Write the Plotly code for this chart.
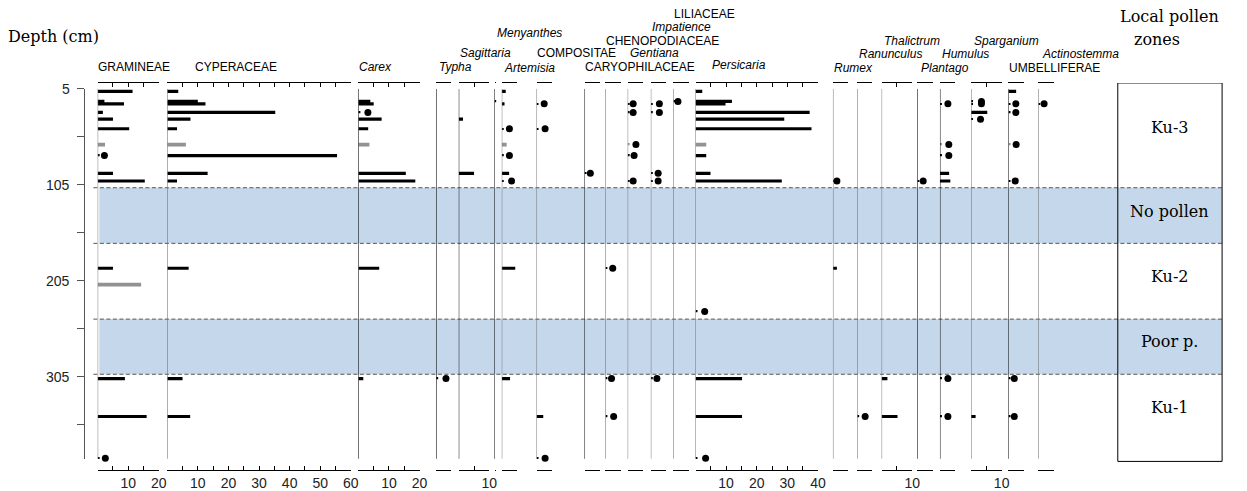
import plotly.graph_objects as go

# ---------------------------------------------------------------- data
# sample depths (cm); bar lists below are aligned with this list
depths = [7.5, 18, 20.5, 29.5, 36.5, 46.5, 74.5, 93, 101, 192, 237, 307, 346.5, 390]
# samples plotted in grey
grey_depths = [63, 209]

# pollen percentages
gramineae    = [11.4, 2.2, 8.6, 1.7, 5.0, 10.3, 0, 5.0, 15.4, 5.0, 0, 8.9, 16.0, 0]
cyperaceae   = [3.6, 10.0, 12.5, 35.3, 7.6, 3.2, 55.5, 13.2, 3.2, 7.0, 0, 5.0, 7.5, 0]
carex        = [0, 3.9, 5.0, 0, 7.6, 3.2, 0, 15.5, 18.6, 6.8, 0, 1.6, 0, 0]
sagittaria   = [0, 0, 0, 0, 1.4, 0, 0, 5.0, 0, 0, 0, 0, 0, 0]
artemisia    = [1.3, 0, 0.9, 0, 0, 0, 0, 2.4, 0, 4.4, 0, 2.7, 0, 0]
compositae   = [0, 0, 0, 0, 0, 0, 0, 0, 0, 0, 0, 0, 2.2, 0]
persicaria   = [2.2, 11.9, 9.8, 37.3, 29.0, 37.9, 3.5, 4.9, 28.2, 0, 0, 15.2, 15.2, 0]
rumex        = [0, 0, 0, 0, 0, 0, 0, 0, 0, 1.3, 0, 0, 0, 0]
thalictrum   = [0, 0, 0, 0, 0, 0, 0, 0, 0, 0, 0, 1.9, 5.2, 0]
humulus      = [0, 0, 0, 0, 0, 0, 0, 3.0, 3.4, 0, 0, 0, 0, 0]
sparganium   = [0, 0, 0, 5.3, 0, 0, 0, 0, 0, 0, 0, 0, 1.5, 0]
umbelliferae = [2.5, 0, 0, 0, 0, 0, 0, 0, 0, 0, 0, 0, 0, 0]

# grey samples (aligned with grey_depths)
gramineae_grey  = [2.4, 14.2]
cyperaceae_grey = [6.1, 0]
carex_grey      = [3.6, 0]
artemisia_grey  = [1.6, 0]
persicaria_grey = [3.5, 0]

# rare occurrences (< 1 %): (depth, marker position in %)
gramineae_dots      = [(74.5, 2.2), (390, 2.5)]
carex_dots          = [(29.5, 3.1)]
typha_dots          = [(307, 3.2)]
menyanthes_dots     = [(18, 1.3)]
artemisia_dots      = [(46.5, 2.5), (74.5, 2.5), (101, 3.2)]
compositae_dots     = [(20.5, 2.5), (46.5, 2.8), (390, 2.8)]
caryophilaceae_dots = [(93, 1.9)]
chenopodiaceae_dots = [(192, 2.4), (307, 2.0), (346.5, 2.7)]
gentiana_dots       = [(20.5, 1.8), (29.5, 1.8), (63, 2.7), (74.5, 2.1), (101, 1.8)]
impatience_dots     = [(20.5, 2.8), (29.5, 2.8), (93, 2.4), (101, 2.4), (307, 2.0)]
liliaceae_dots      = [(18, 1.5)]
persicaria_dots     = [(237, 3.0), (390, 3.3)]
rumex_dots          = [(101, 1.3)]
ranunculus_dots     = [(346.5, 2.6)]
plantago_dots       = [(101, 1.9)]
humulus_dots        = [(20.5, 2.6), (63, 2.9), (74.5, 2.9), (307, 2.6), (346.5, 2.6)]
sparganium_dots     = [(18, 3.4), (20.5, 3.4), (36.5, 3.1)]
umbelliferae_dots   = [(20.5, 2.4), (29.5, 2.4), (63, 2.5), (101, 2.2), (307, 1.9), (346.5, 1.9)]
actinostemma_dots   = [(20.5, 1.9)]

# x-axis maximum (%) of each panel
x_max = [20, 60, 20, 5, 10, 0.6, 5, 5, 5, 5, 5, 5, 5, 40, 5, 5, 10, 5, 5, 10, 5, 5]

# local pollen zones
zone_bounds = [108, 166, 245, 302.5]
zone_names = ["Ku-3", "No pollen", "Ku-2", "Poor p.", "Ku-1"]
barren_zones = [(108, 166), (245, 302.5)]

# depth axis ticks (labelled every 100 cm)
depth_ticks = [5, 55, 105, 155, 205, 255, 305, 355]
depth_labels = [5, 105, 205, 305]

# (label, italic, bars, grey bars, dots)
panels = [
    ("GRAMINEAE", False, gramineae, gramineae_grey, gramineae_dots),
    ("CYPERACEAE", False, cyperaceae, cyperaceae_grey, []),
    ("Carex", True, carex, carex_grey, carex_dots),
    ("Typha", True, None, None, typha_dots),
    ("Sagittaria", True, sagittaria, None, []),
    ("Menyanthes", True, None, None, menyanthes_dots),
    ("Artemisia", True, artemisia, artemisia_grey, artemisia_dots),
    ("COMPOSITAE", False, compositae, None, compositae_dots),
    ("CARYOPHILACEAE", False, None, None, caryophilaceae_dots),
    ("CHENOPODIACEAE", False, None, None, chenopodiaceae_dots),
    ("Gentiana", True, None, None, gentiana_dots),
    ("Impatience", True, None, None, impatience_dots),
    ("LILIACEAE", False, None, None, liliaceae_dots),
    ("Persicaria", True, persicaria, persicaria_grey, persicaria_dots),
    ("Rumex", True, rumex, None, rumex_dots),
    ("Ranunculus", True, None, None, ranunculus_dots),
    ("Thalictrum", True, thalictrum, None, []),
    ("Plantago", True, None, None, plantago_dots),
    ("Humulus", True, humulus, None, humulus_dots),
    ("Sparganium", True, sparganium, None, sparganium_dots),
    ("UMBELLIFERAE", False, umbelliferae, None, umbelliferae_dots),
    ("Actinostemma", True, None, None, actinostemma_dots),
]

# ---------------------------------------------------------------- page geometry
W, H = 1247, 491


def fx(px):
    """pixel column -> paper fraction"""
    return px / W


def fy(py):
    """pixel row -> paper fraction"""
    return 1 - py / H


PX_PER_PCT = 3.08
left_px = [98.3, 168.3, 360.7, 439, 461.7, 497.7, 505, 540, 588.3, 609.3, 631.7,
           655, 677.7, 700, 838.3, 862.7, 887.3, 923.3, 946, 977.3, 1015, 1045]
GREY_LINE = "#707070"
line_col = [GREY_LINE, GREY_LINE, "black", "black", "black", "black", GREY_LINE, GREY_LINE,
            "black", GREY_LINE, GREY_LINE, GREY_LINE, GREY_LINE, GREY_LINE, GREY_LINE,
            GREY_LINE, GREY_LINE, "black", "black", GREY_LINE, "black", GREY_LINE]
label_px = [(98.3, 67.7), (196.7, 67.7), (361.7, 67.7), (441.7, 67.7), (463.3, 53.3),
            (500, 33.3), (507.3, 68.5), (540, 53.3), (588.3, 67.7), (610, 40.7),
            (634.3, 53.3), (656.7, 27.3), (678.3, 14), (716.7, 65), (839.3, 68.3),
            (865, 54.3), (890, 41), (926.7, 68.3), (948.3, 54.3), (980, 41),
            (1016, 68.3), (1048.3, 54.3)]

# vertical geometry: plotting band from y=83.3px to y=471.7px
TOP_PX, BOT_PX = 83.3, 471.7
PX_PER_CM = 0.963
Y_REF_PX = 89.3          # pixel row of 5 cm
DEPTH_AXIS_PX = 86
DEPTH_LABEL_RIGHT_PX = 72
LINE_END_PX = 460.7


def depth_at(py):
    return 5 + (py - Y_REF_PX) / PX_PER_CM


Y_TOP, Y_BOT = depth_at(TOP_PX), depth_at(BOT_PX)
LINE_END = depth_at(LINE_END_PX)
BAR_W = 3.3
TRACE_PCT = 0.4
SANS = "Liberation Sans, Arial, sans-serif"
SERIF = "DejaVu Serif, serif"

fig = go.Figure()
axes = {}
shapes = []
annotations = []

for i, (name, italic, bars, grey, dots) in enumerate(panels):
    n = i + 1
    xref = "x" if n == 1 else f"x{n}"
    xkey = "xaxis" if n == 1 else f"xaxis{n}"
    d0 = fx(left_px[i])
    d1 = fx(left_px[i] + x_max[i] * PX_PER_PCT)
    tv = list(range(0, int(x_max[i]) + 1, 5)) if x_max[i] >= 5 else [0]
    tt = [str(t) if t and t % 10 == 0 else "" for t in tv]
    axes[xkey] = dict(
        domain=[d0, d1], range=[0, x_max[i]], anchor="y",
        showline=True, linecolor="black", linewidth=1, mirror="ticks",
        ticks="inside", ticklen=4, tickwidth=1, tickcolor="black",
        tickvals=tv, ticktext=tt, tickangle=0,
        tickfont=dict(family=SANS, size=14, color="#222"),
        showgrid=False, zeroline=False, fixedrange=True,
    )

    if bars:
        yy = [d for d, v in zip(depths, bars) if v > 0]
        xx = [v for v in bars if v > 0]
        fig.add_trace(go.Bar(x=xx, y=yy, orientation="h", width=BAR_W, base=0,
                             marker=dict(color="black", line=dict(width=0)),
                             xaxis=xref, yaxis="y", hoverinfo="skip"))
    if grey:
        yy = [d for d, v in zip(grey_depths, grey) if v > 0]
        xx = [v for v in grey if v > 0]
        fig.add_trace(go.Bar(x=xx, y=yy, orientation="h", width=BAR_W + 0.5, base=0,
                             marker=dict(color="#929292", line=dict(width=0)),
                             xaxis=xref, yaxis="y", hoverinfo="skip"))
    if dots:
        dy = [d for d, _ in dots]
        dx = [p for _, p in dots]
        tcol = ["#929292" if d in grey_depths else "black" for d in dy]
        fig.add_trace(go.Bar(x=[TRACE_PCT] * len(dy), y=dy, orientation="h", width=1.6,
                             base=0, marker=dict(color=tcol, line=dict(width=0)),
                             xaxis=xref, yaxis="y", hoverinfo="skip"))
        fig.add_trace(go.Scatter(x=dx, y=dy, mode="markers", cliponaxis=False,
                                 marker=dict(color="black", size=7, line=dict(width=0)),
                                 xaxis=xref, yaxis="y", hoverinfo="skip"))

    shapes.append(dict(type="line", xref=xref, yref="y", x0=0, x1=0, y0=5, y1=LINE_END,
                       line=dict(color=line_col[i], width=1), layer="above"))

    lx, ly = label_px[i]
    annotations.append(dict(
        text=f"<i>{name}</i>" if italic else name, xref="paper", yref="paper",
        x=fx(lx - 2), y=fy(ly), xanchor="left", yanchor="middle",
        showarrow=False, font=dict(family=SANS, size=12, color="black")))

# barren / poor-pollen bands and zone boundaries
for a, b in barren_zones:
    shapes.append(dict(type="rect", xref="paper", yref="y", x0=fx(100), x1=fx(1230),
                       y0=a, y1=b, fillcolor="#c4d7eb", line=dict(width=0), layer="below"))
for zb in zone_bounds:
    shapes.append(dict(type="line", xref="paper", yref="y", x0=fx(94), x1=fx(1230),
                       y0=zb, y1=zb, line=dict(color="#555", width=1, dash="4px,2.5px"),
                       layer="below"))

# zone column
BOX_BOTTOM = depth_at(463.3)
shapes.append(dict(type="rect", xref="paper", yref="y", x0=fx(1125), x1=fx(1230),
                   y0=Y_TOP, y1=BOX_BOTTOM, line=dict(color="black", width=1),
                   fillcolor="rgba(0,0,0,0)", layer="above"))
zone_edges = [Y_TOP] + zone_bounds + [BOX_BOTTOM]
zone_label_shift = [-8, -4, -5, -5, -11]
for k, zn in enumerate(zone_names):
    mid = (zone_edges[k] + zone_edges[k + 1]) / 2 + zone_label_shift[k]
    annotations.append(dict(text=zn, xref="paper", yref="y", x=fx(1177.5), y=mid,
                            xanchor="center", yanchor="middle", showarrow=False,
                            font=dict(family=SERIF, size=16, color="black")))

# depth tick labels, placed at their depth on the shared depth scale
for d in depth_labels:
    annotations.append(dict(text=str(d), xref="paper", yref="y", x=fx(DEPTH_LABEL_RIGHT_PX),
                            y=d, xanchor="right", yanchor="middle", showarrow=False,
                            font=dict(family=SANS, size=14, color="#222")))

annotations += [
    dict(text="Depth (cm)", xref="paper", yref="paper", x=fx(6), y=fy(37),
         xanchor="left", yanchor="middle", showarrow=False,
         font=dict(family=SERIF, size=16, color="black")),
    dict(text="Local pollen", xref="paper", yref="paper", x=fx(1125), y=fy(17),
         xanchor="left", yanchor="middle", showarrow=False,
         font=dict(family=SERIF, size=16, color="black")),
    dict(text="zones", xref="paper", yref="paper", x=fx(1139), y=fy(40),
         xanchor="left", yanchor="middle", showarrow=False,
         font=dict(family=SERIF, size=16, color="black")),
]

# depth axis line and ticks: its own y axis spanning 5 cm .. bottom sample
fig.add_trace(go.Scatter(x=[0], y=[5], mode="markers", marker=dict(opacity=0),
                         xaxis="x23", yaxis="y2", hoverinfo="skip"))

fig.update_layout(
    width=W, height=H, margin=dict(l=0, r=0, t=0, b=0),
    paper_bgcolor="white", plot_bgcolor="rgba(0,0,0,0)",
    showlegend=False, barmode="overlay",
    yaxis=dict(domain=[fy(BOT_PX), fy(TOP_PX)], range=[Y_BOT, Y_TOP],
               visible=False, fixedrange=True),
    yaxis2=dict(domain=[fy(LINE_END_PX), fy(Y_REF_PX)], range=[LINE_END, 5],
                anchor="x23", side="left",
                showline=True, linecolor="#555", linewidth=1,
                ticks="outside", ticklen=7, tickcolor="#555", tickwidth=1,
                tickvals=depth_ticks, showticklabels=False,
                showgrid=False, zeroline=False, fixedrange=True),
    xaxis23=dict(domain=[fx(DEPTH_AXIS_PX), fx(DEPTH_AXIS_PX + 4)], visible=False,
                 anchor="y2", range=[0, 1], fixedrange=True),
    shapes=shapes, annotations=annotations,
    **axes,
)

fig.write_html("out.html", config={"displayModeBar": False})
